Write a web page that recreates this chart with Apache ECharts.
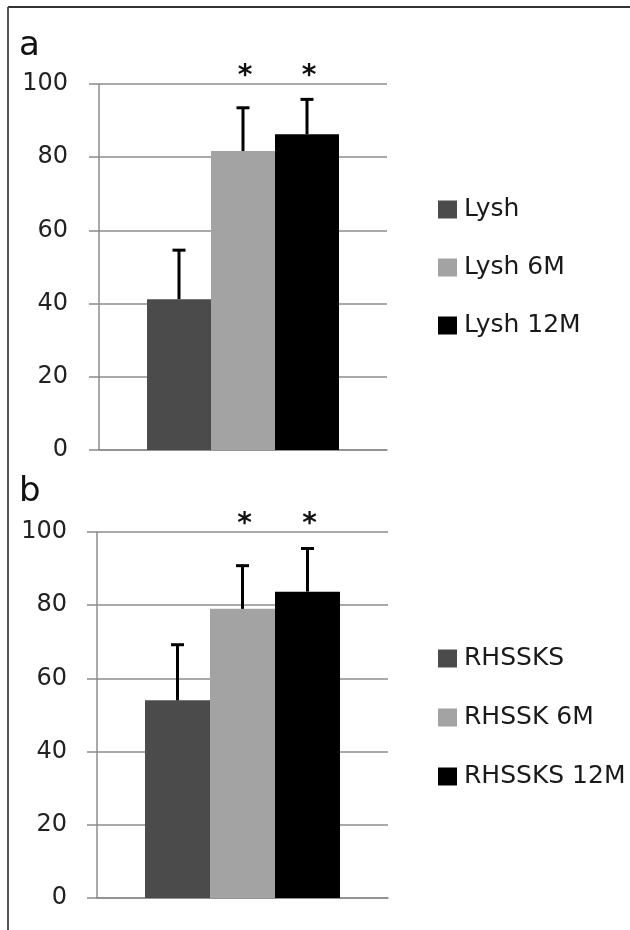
<!DOCTYPE html>
<html>
<head>
<meta charset="utf-8">
<script src="https://cdn.jsdelivr.net/npm/echarts@6/dist/echarts.min.js"></script>
<style>html,body{margin:0;padding:0;background:#fff}#chart{width:630px;height:930px}</style>
</head>
<body>
<div id="chart"></div>
<script>
// ---- data ----
const categories = [''];
const yTicks = { min: 0, max: 100, interval: 20 };

const topNames = ['Lysh', 'Lysh 6M', 'Lysh 12M'];
const topMeans = [41.2, 81.7, 86.3];
const topErrors = [13.4, 11.8, 9.5];
const topSig = [false, true, true];

const bottomNames = ['RHSSKS', 'RHSSK 6M', 'RHSSKS 12M'];
const bottomMeans = [54.0, 79.0, 83.7];
const bottomErrors = [15.2, 11.8, 11.8];
const bottomSig = [false, true, true];

const starLevel = 102;
// ---- styles ----
const colors = ['#4b4b4b', '#a3a3a3', '#000000'];
const gridColor = '#8c8c8c';
const FONT = 'DejaVu Sans';

const chart = echarts.init(document.getElementById('chart'));

function yAxis(gridIndex, margin) {
  return {
    type: 'value', gridIndex, min: yTicks.min, max: yTicks.max, interval: yTicks.interval,
    axisLine: { show: true, lineStyle: { color: gridColor, width: 1.5 } },
    axisTick: { show: true, length: 10, lineStyle: { color: gridColor, width: 1.5 } },
    splitLine: { show: true, lineStyle: { color: gridColor, width: 1.5 } },
    axisLabel: { fontFamily: FONT, fontSize: 24, color: '#222', margin }
  };
}
function xAxis(gridIndex) {
  return {
    type: 'category', gridIndex, data: categories,
    axisLine: { show: true, lineStyle: { color: gridColor, width: 1.5 } },
    axisTick: { show: false }, axisLabel: { show: false }
  };
}
function bars(names, means, axisIdx, barW) {
  return names.map((n, i) => ({
    type: 'bar', name: n, xAxisIndex: axisIdx, yAxisIndex: axisIdx,
    data: [means[i]], barWidth: barW, barGap: '0%',
    itemStyle: { color: colors[i] }, z: 2
  }));
}
function errors(means, errs, sig, axisIdx, barW) {
  const data = means.map((m, i) => [0, m, errs[i], sig[i] ? 1 : 0, i]);
  return {
    type: 'custom', xAxisIndex: axisIdx, yAxisIndex: axisIdx, z: 5, clip: false,
    encode: { x: 0, y: 1 },
    data,
    renderItem: function (params, api) {
      const m = api.value(1), e = api.value(2), s = api.value(3), idx = api.value(4);
      const base = api.coord([0, m]);
      const top = api.coord([0, m + e]);
      const x = base[0] + (idx - 1) * barW;
      const children = [
        { type: 'line', shape: { x1: x, y1: base[1], x2: x, y2: top[1] }, style: { stroke: '#000', lineWidth: 3 } },
        { type: 'line', shape: { x1: x - 6.5, y1: top[1], x2: x + 6.5, y2: top[1] }, style: { stroke: '#000', lineWidth: 3 } }
      ];
      if (s) {
        const st = api.coord([0, starLevel]);
        children.push({ type: 'text', x: x + 2, y: st[1], style: { text: '*', fontFamily: FONT, fontWeight: 'bold', fontSize: 28, fill: '#111', align: 'center', verticalAlign: 'middle' } });
      }
      return { type: 'group', children };
    }
  };
}
function legend(names, top, gap) {
  return {
    data: names, orient: 'vertical', left: 438, top, itemGap: gap, padding: 0,
    itemWidth: 19, itemHeight: 18, icon: 'rect',
    textStyle: { fontFamily: FONT, fontSize: 25, color: '#1a1a1a', lineHeight: 25, padding: [0, 0, 0, 2] },
    selectedMode: false
  };
}

chart.setOption({
  animation: false,
  backgroundColor: '#fff',
  title: [
    { text: 'a', left: 19, top: 29, padding: 0, textStyle: { fontFamily: FONT, fontSize: 34, fontWeight: 'normal', color: '#111' } },
    { text: 'b', left: 19, top: 475, padding: 0, textStyle: { fontFamily: FONT, fontSize: 34, fontWeight: 'normal', color: '#111' } }
  ],
  grid: [
    { left: 99, top: 84, width: 288, height: 366 },
    { left: 97, top: 532, width: 291, height: 366 }
  ],
  xAxis: [xAxis(0), xAxis(1)],
  yAxis: [yAxis(0, 31), yAxis(1, 30)],
  legend: [legend(topNames, 197, 33), legend(bottomNames, 646, 34)],
  graphic: [
    { type: 'line', shape: { x1: 8, y1: 7, x2: 630, y2: 7 }, style: { stroke: '#333', lineWidth: 2 } },
    { type: 'line', shape: { x1: 8, y1: 7, x2: 8, y2: 930 }, style: { stroke: '#555', lineWidth: 2 } }
  ],
  series: [].concat(
    bars(topNames, topMeans, 0, 64),
    bars(bottomNames, bottomMeans, 1, 65),
    [errors(topMeans, topErrors, topSig, 0, 64), errors(bottomMeans, bottomErrors, bottomSig, 1, 65)]
  )
});
</script>
</body>
</html>
